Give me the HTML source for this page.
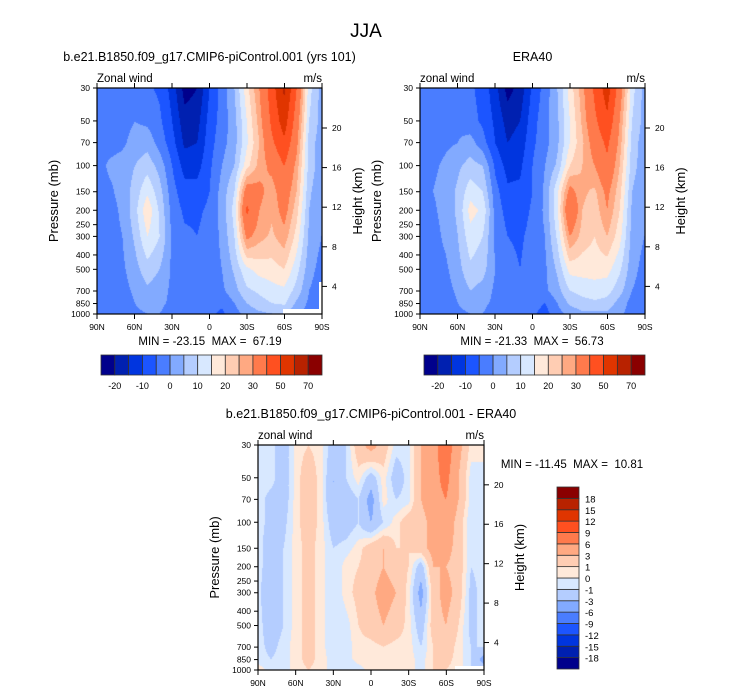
<!DOCTYPE html>
<html><head><meta charset="utf-8">
<style>
html,body{margin:0;padding:0;background:#fff;}
#wrap{position:relative;width:732px;height:695px;overflow:hidden;font-family:"Liberation Sans",sans-serif;}
canvas{position:absolute;}
svg{position:absolute;left:0;top:0;}
text{white-space:pre;}
</style></head>
<body>
<div id="wrap">
<canvas id="c1"></canvas>
<canvas id="c2"></canvas>
<canvas id="c3"></canvas>
<svg id="s" width="732" height="695"></svg>
</div>
<script>
// ---- data ----
const lats = ["90N","80N","70N","60N","50N","40N","30N","20N","10N","0","10S","20S","30S","40S","50S","60S","70S","80S","90S"];
const levels = [30,50,70,100,150,200,300,500,700,850,1000];
const modelU = [
[-3,-3,-3,-3,-4,-6,-12,-22,-20,-10,-3,5,18,30,45,62,40,12,3],
[-3,-3,-2,0,-1,-4,-10,-18,-17,-8,-3,3,15,27,42,55,35,10,3],
[-3,-2,-1,2,3,-2,-8,-16,-15,-7,-2,3,14,25,38,48,32,8,2],
[-2,1,2,5,8,3,-5,-12,-12,-6,0,5,18,27,32,40,28,8,2],
[-3,-1,2,7,14,7,-3,-8,-8,-5,2,10,35,32,27,35,25,6,1],
[-3,-2,1,8,19,9,-2,-6,-6,-4,2,12,42,30,26,33,22,5,0],
[-3,-2,0,6,15,10,-1,-4,-5,-3,1,10,32,27,24,28,18,4,0],
[-3,-3,-1,3,8,5,-1,-3,-3,-2,0,6,14,17,18,20,12,2,-2],
[-3,-3,-2,1,4,2,-1,-3,-3,-2,-1,3,9,11,13,14,8,0,-3],
[-4,-3,-3,0,2,1,-1,-3,-2,-3,-4,0,5,8,10,11,4,-1,-4],
[-4,-4,-3,-1,0,0,-2,-3,-2,-4,-6,-2,2,4,5,5,1,-2,-5]];
const eraU = [
[-3,-3,-3,-3,-4,-7,-13,-22,-18,-9,-3,5,17,28,42,55,35,12,3],
[-3,-2,-1,-1,-3,-6,-11,-17,-15,-7,-2,4,15,26,38,48,30,10,3],
[-3,-2,-1,0,2,-3,-10,-15,-13,-6,-2,4,15,24,34,42,28,8,2],
[-3,-1,1,4,7,5,-6,-12,-11,-5,0,6,20,25,30,38,25,7,2],
[-2,0,2,6,13,10,-3,-9,-9,-5,1,14,33,26,24,32,22,5,1],
[-3,-1,2,6,17,14,-2,-7,-8,-4,1,14,40,25,22,30,20,4,0],
[-3,-2,1,5,13,10,-1,-5,-6,-3,0,11,30,23,20,25,17,3,0],
[-3,-2,-1,3,9,7,0,-3,-5,-2,-1,6,17,17,17,17,11,2,-2],
[-3,-3,-2,1,5,3,-1,-3,-3,-2,-1,3,10,12,13,12,7,0,-3],
[-4,-3,-3,0,2,1,-1,-3,-2,-3,-5,0,6,8,9,8,3,-2,-4],
[-4,-4,-3,-1,0,0,-2,-3,-2,-4,-7,-2,2,4,4,4,1,-2,-4]];
const diffU = [
[-0.5,-0.5,-2,0.5,1,0.5,-2,-1,2,4,2,-0.5,-0.5,3,5,8,4,0.5,0.5],
[-0.5,-0.5,-2,0.5,2,0.5,-3,-1,0.5,-2,0.5,-2,-0.5,3,5,7,3,-0.5,-0.5],
[-0.5,-1.5,-2,0.5,2,0.5,-3,-2,-1,-4,0.5,-1,-0.5,3,5,6,3,-0.5,-0.5],
[-0.5,-1.5,-1.5,0.5,2,0.5,-2,-2,-1,-3,-1,0.5,2,2,4,5,2,-1,-0.5],
[-0.5,-2,-1,0.5,1.5,0.5,-1,-0.5,0.5,2,3,1,1,2,4,4,2,-1,-0.5],
[-0.5,-2,-1,0.5,1.5,0.5,-1,0.5,1,2,3,2,1,-2,3,3,2,-1,-0.5],
[-0.5,-3,-1,0.5,1.5,0.5,-1,0.5,1.5,2.5,4,3,0.5,-4,2,4,2,-1.5,-0.5],
[-0.5,-2,-1,0.5,1.5,0.5,-1,-0.5,1,2,3,2,0.5,-2,2,3,1,-1.5,-0.5],
[-0.5,-1.5,-0.5,0.5,1.5,0.5,-1,-0.5,0.5,0.5,1,0.5,0.5,-1,1,2,0.5,-1,-1],
[-0.5,-1,-0.5,0.5,1.5,0.5,-0.5,-0.5,0.5,0.5,0.5,0.5,0.5,-0.5,1,1.5,0.5,-1,-4],
[0.5,-0.5,-0.5,0.5,1,0.5,-0.5,-1,-0.5,0.5,0.5,0.5,0.5,-0.5,1,1,0.5,-1,-2]];
const absEdges = [-20,-15,-10,-5,0,5,10,15,20,25,30,40,50,60,70];
const absTickLabels = ["-20","-10","0","10","20","30","50","70"];
const diffEdges = [-18,-15,-12,-9,-6,-3,-1,0,1,3,6,9,12,15,18];
const pTicks = [30,50,70,100,150,200,250,300,400,500,700,850,1000];
const kmTicks = [20,16,12,8,4];
const latTicks = ["90N","60N","30N","0","30S","60S","90S"];
const palette = ["#00008c","#0020b0","#0035df","#1c55ff","#4a7dff","#82aaff","#b4cdff","#d8e8ff","#ffe9da","#ffcdb3","#ffa982","#ff7a4c","#ff5020","#e03500","#b82200","#8a0000"];

function colorFor(v,edges){let i=0;while(i<edges.length&&v>=edges[i])i++;return palette[i];}
const LN=Math.log(1000/30);
function fieldAt(grid,u,fy){
  const p=30*Math.exp(fy*LN);
  let r=0;while(r<levels.length-2&&p>levels[r+1])r++;
  const t=(Math.log(p)-Math.log(levels[r]))/(Math.log(levels[r+1])-Math.log(levels[r]));
  let c=Math.min(Math.floor(u),grid[0].length-2);const s=u-c;
  const a=grid[r][c]*(1-s)+grid[r][c+1]*s, b=grid[r+1][c]*(1-s)+grid[r+1][c+1]*s;
  return a*(1-t)+b*t;
}
function drawField(id,grid,edges,x0,y0,x1,y1){
  const cv=document.getElementById(id);const w=x1-x0,h=y1-y0;
  cv.width=w;cv.height=h;cv.style.left=x0+'px';cv.style.top=y0+'px';
  const ctx=cv.getContext('2d');
  for(let py=0;py<h;py++)for(let px=0;px<w;px++){
    const v=fieldAt(grid,px/(w-1)*(grid[0].length-1),py/(h-1));
    ctx.fillStyle=colorFor(v,edges);ctx.fillRect(px,py,1,1);
  }
}
const S=document.getElementById('s');const NS="http://www.w3.org/2000/svg";
function el(tag,attrs,txt){const e=document.createElementNS(NS,tag);for(const k in attrs)e.setAttribute(k,attrs[k]);if(txt!==undefined)e.textContent=txt;S.appendChild(e);return e;}
function text(x,y,s,size,anchor,name,extra){
  const t=el('text',Object.assign({x:x,y:y,'font-size':size,'text-anchor':anchor||'middle','font-family':'Liberation Sans, sans-serif',fill:'#000'},extra||{}),s);
  
  return t;
}
function panel(o){
  drawField(o.id,o.grid,o.edges,o.x0,o.y0,o.x1,o.y1);
  const w=o.x1-o.x0,h=o.y1-o.y0;
  (o.white||[]).forEach(r=>{const e=el('rect',{x:r[0],y:r[1],width:r[2],height:r[3],fill:'#fff'});
    
    });
  const fr=el('rect',{x:o.x0,y:o.y0,width:w,height:h,fill:'none',stroke:'#000','stroke-width':1.2});
  
  
  text((o.x0+o.x1)/2,o.y0-27,o.title,12.5,'middle','panel-title');
  text(o.x0,o.y0-6,o.left,11.5,'start','variable-label');
  text(o.x1,o.y0-6,'m/s',11.5,'end','units-label');
  latTicks.forEach((l,i)=>{const x=o.x0+w*i/(latTicks.length-1);
    const t1=el('line',{x1:x,y1:o.y1,x2:x,y2:o.y1+5,stroke:'#000'});
    
    
    const t2=el('line',{x1:x,y1:o.y0,x2:x,y2:o.y0-5,stroke:'#000'});
    
    
    text(x,o.y1+16,l,8.5,'middle','x-tick-label');});
  pTicks.forEach(p=>{const y=o.y0+h*Math.log(p/30)/LN;
    const t=el('line',{x1:o.x0,y1:y,x2:o.x0-4,y2:y,stroke:'#000'});
    
    
    text(o.x0-7,y+3,String(p),8.5,'end','y-tick-label');});
  kmTicks.forEach(k=>{const y=o.y0+h/226*(40+(20-k)*9.9);
    const t=el('line',{x1:o.x1,y1:y,x2:o.x1+5,y2:y,stroke:'#000'});
    
    
    text(o.x1+10,y+3,String(k),8.5,'start','height-tick-label');});
  text(0,0,'Pressure (mb)',13,'middle','y-axis-title',{transform:`translate(${o.x0-39},${(o.y0+o.y1)/2}) rotate(-90)`});
  text(0,0,'Height (km)',13,'middle','height-axis-title',{transform:`translate(${o.x1+40},${(o.y0+o.y1)/2}) rotate(-90)`});
  text(o.mmx,o.mmy,o.minmax,11.5,'middle','min-max-label');
}
function hbar(x0,x1,y0,y1){
  const n=palette.length,bw=(x1-x0)/n;
  palette.forEach((c,i)=>{const r=el('rect',{x:x0+i*bw,y:y0,width:bw,height:y1-y0,fill:c,stroke:'#333','stroke-width':0.8});
    
    });
  absEdges.forEach((e,i)=>{const lab=absTickLabels[(i)/2];if(i%2===0&&lab!==undefined)text(x0+(i+1)*bw,y1+14,lab,9,'middle','colorbar-label');});
}
function vbar(x0,x1,y0,y1){
  const n=palette.length,bh=(y1-y0)/n;
  palette.forEach((c,i)=>{const r=el('rect',{x:x0,y:y1-(i+1)*bh,width:x1-x0,height:bh,fill:c,stroke:'#333','stroke-width':0.8});
    
    });
  diffEdges.forEach((e,i)=>text(x1+6,y1-(i+1)*bh+4,String(e),9.5,'start','colorbar-label'));
}
text(366,37,'JJA',19,'middle','figure-title');
panel({id:'c1',grid:modelU,edges:absEdges,x0:97,x1:322,y0:88,y1:314,title:'b.e21.B1850.f09_g17.CMIP6-piControl.001 (yrs 101)',left:'Zonal wind',minmax:'MIN = -23.15  MAX =  67.19',mmx:210,mmy:345,white:[[283,309,39,5],[319,282,3,32]]});
panel({id:'c2',grid:eraU,edges:absEdges,x0:420,x1:645,y0:88,y1:314,title:'ERA40',left:'zonal wind',minmax:'MIN = -21.33  MAX =  56.73',mmx:532,mmy:345});
panel({id:'c3',grid:diffU,edges:diffEdges,x0:258,x1:484,y0:445,y1:670,title:'b.e21.B1850.f09_g17.CMIP6-piControl.001 - ERA40',left:'zonal wind',minmax:'MIN = -11.45  MAX =  10.81',mmx:572,mmy:468,white:[[455,666,29,4]]});
hbar(101,322,355,375);
hbar(424,645,355,375);
vbar(557,579,487,669);
</script>
</body></html>
